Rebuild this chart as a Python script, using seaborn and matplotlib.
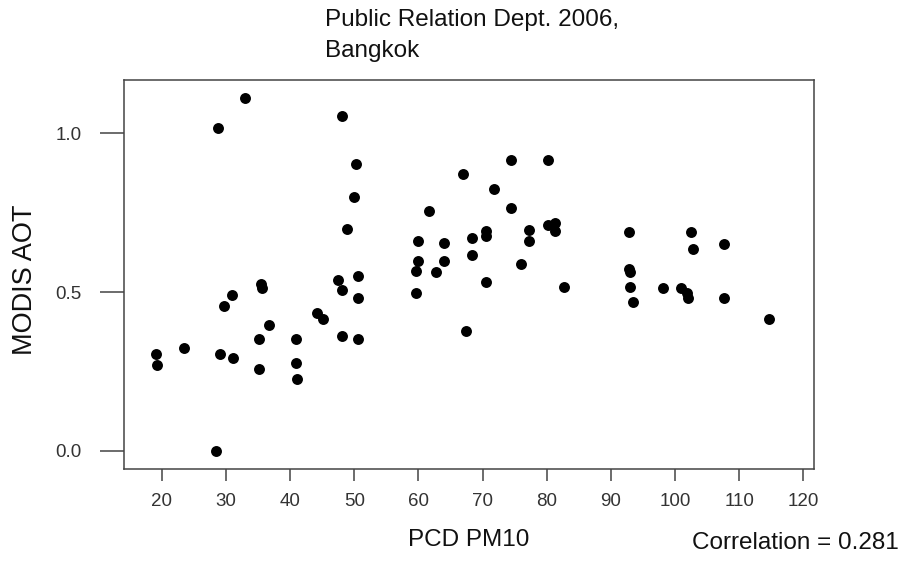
import matplotlib
matplotlib.use('Agg')
import matplotlib.pyplot as plt
import seaborn as sns
import pandas as pd

# --- data ---
pcd_pm10 = [19.0, 19.2, 23.5, 28.5, 28.7, 29.0, 29.7, 30.9, 31.1, 33.0,
            35.2, 35.2, 35.4, 35.6, 36.7, 40.9, 40.9, 41.1, 44.2, 45.1,
            47.4, 48.1, 48.1, 48.1, 48.9, 50.0, 50.2, 50.5, 50.6, 50.6,
            59.6, 59.6, 60.0, 60.0, 61.7, 62.8, 64.0, 64.0, 67.0, 67.4,
            68.3, 68.3, 70.6, 70.6, 70.6, 71.7, 74.4, 74.4, 76.0, 77.2,
            77.2, 80.2, 80.2, 81.3, 81.3, 82.75, 92.75, 92.8, 93.0, 93.0,
            93.4, 98.1, 101.0, 101.9, 102.1, 102.5, 102.8, 107.7, 107.7, 114.7]
modis_aot = [0.306, 0.270, 0.323, 0.000, 1.018, 0.306, 0.456, 0.490, 0.291, 1.112,
             0.352, 0.257, 0.524, 0.514, 0.395, 0.352, 0.275, 0.227, 0.435, 0.416,
             0.538, 1.055, 0.506, 0.361, 0.699, 0.798, 0.902, 0.352, 0.550, 0.481,
             0.566, 0.498, 0.662, 0.598, 0.755, 0.562, 0.653, 0.598, 0.872, 0.377,
             0.670, 0.618, 0.692, 0.677, 0.532, 0.824, 0.915, 0.764, 0.588, 0.696,
             0.662, 0.915, 0.711, 0.718, 0.692, 0.516, 0.688, 0.571, 0.564, 0.516,
             0.468, 0.512, 0.512, 0.496, 0.482, 0.688, 0.635, 0.652, 0.481, 0.416]
x_ticks = [20, 30, 40, 50, 60, 70, 80, 90, 100, 110, 120]
y_ticks = [0.0, 0.5, 1.0]
y_tick_labels = ['0.0', '0.5', '1.0']
title_text = 'Public Relation Dept. 2006,\nBangkok'
corr_text = 'Correlation = 0.281'

# --- style ---
sns.set_theme(style='white')
plt.rcParams['font.family'] = ['Liberation Sans', 'DejaVu Sans']
edge = '#444444'

df = pd.DataFrame({'PCD PM10': pcd_pm10, 'MODIS AOT': modis_aot})

fig = plt.figure(figsize=(9.01, 5.67), dpi=100)
ax = fig.add_axes([124 / 901, 1 - 469 / 567, 690 / 901, 389 / 567])

sns.scatterplot(data=df, x='PCD PM10', y='MODIS AOT', color='black',
                s=62, linewidth=0, ax=ax)

ax.set_xlim(14.08, 121.67)
ax.set_ylim(-0.0577, 1.168)
ax.set_xticks(x_ticks)
ax.set_yticks(y_ticks)
ax.set_yticklabels(y_tick_labels)

for side in ax.spines.values():
    side.set_color(edge)
    side.set_linewidth(1.1)

ax.tick_params(axis='x', direction='out', length=8.6, width=1.1, color=edge,
               labelsize=13.5, labelcolor='#333333', pad=8.5, bottom=True)
ax.tick_params(axis='y', direction='out', length=17.3, width=1.1, color=edge,
               labelsize=13.5, labelcolor='#333333', pad=13, left=True)

ax.set_xlabel('PCD PM10', fontsize=17.5, color='#111111', labelpad=14)
ax.set_ylabel('MODIS AOT', fontsize=19.5, color='#111111')
ax.yaxis.set_label_coords(-0.124, 0.486)

fig.text(325 / 901, 1 - 35.5 / 567, title_text, fontsize=17.5, ha='left',
         va='center', linespacing=1.5, color='#111111')
fig.text(899 / 901, 1 - 543 / 567, corr_text, fontsize=17.5, ha='right',
         va='center', color='#111111')

fig.savefig('out.png', dpi=100)
